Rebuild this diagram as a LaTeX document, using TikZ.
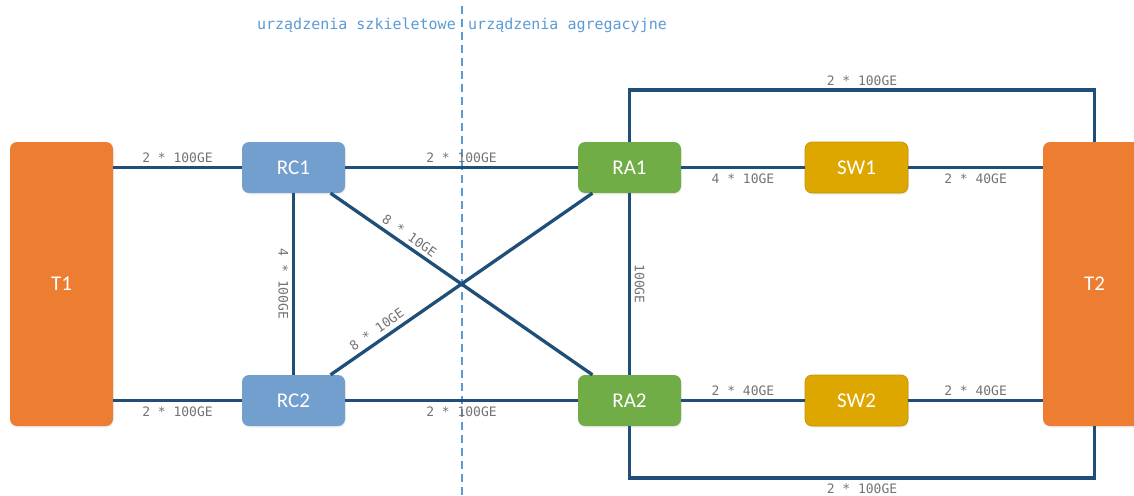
\documentclass[tikz,border=0pt]{standalone}
\usepackage{fontspec}
\setmainfont{Carlito}
\setmonofont{DejaVu Sans Mono}
\usetikzlibrary{calc,shadows}
\definecolor{linkc}{HTML}{1F4E79}
\definecolor{rcblue}{HTML}{739FCE}
\definecolor{ragreen}{HTML}{70AD47}
\definecolor{swgold}{HTML}{DEA700}
\definecolor{swborder}{HTML}{C29200}
\definecolor{torange}{HTML}{ED7D31}
\definecolor{lblgray}{HTML}{737373}
\definecolor{hdrblue}{HTML}{5B9BD5}
\tikzset{
  dev/.style={rectangle, rounded corners=7pt, minimum width=103pt, minimum height=51pt,
    inner sep=0pt, text=white, font=\fontsize{21}{25}\selectfont,
    drop shadow={opacity=0.12, shadow xshift=1pt, shadow yshift=-1.5pt}},
  rc/.style={dev, fill=rcblue},
  ra/.style={dev, fill=ragreen},
  sw/.style={dev, fill=swgold, draw=swborder, line width=0.7pt},
  term/.style={dev, fill=torange, minimum height=284pt},
  link/.style={draw=linkc, line width=3.3pt},
  lbl/.style={font=\fontsize{13}{15}\selectfont\ttfamily, text=lblgray, inner sep=1.5pt},
  vlbl/.style={lbl, inner sep=3.5pt, rotate=-90},
  hdr/.style={font=\fontsize{15}{18}\selectfont\ttfamily, text=hdrblue, inner sep=0pt},
  divider/.style={draw=hdrblue, line width=1.4pt, dash pattern=on 8pt off 5pt},
}
\begin{document}
\begin{tikzpicture}[x=1pt,y=-1pt]
\useasboundingbox (0,0) rectangle (1134,495);
% divider and headers
\coordinate (dtop) at (462,6);
\coordinate (dbot) at (462,495);
\draw[divider] (dtop) -- (dbot);
\node[hdr, anchor=east] (hl) at (456,25) {urządzenia szkieletowe};
\node[hdr, anchor=west] (hr) at (468,25) {urządzenia agregacyjne};
% devices
\node[term] (T1) at (61.5,284) {T1};
\node[term] (T2) at (1094.5,284) {T2};
\node[rc] (RC1) at (293.5,167.5) {RC1};
\node[rc] (RC2) at (293.5,400.5) {RC2};
\node[ra] (RA1) at (629.5,167.5) {RA1};
\node[ra] (RA2) at (629.5,400.5) {RA2};
\node[sw] (SW1) at (856.5,167.5) {SW1};
\node[sw] (SW2) at (856.5,400.5) {SW2};
% helper rows
\coordinate (topline) at (0,90);
\coordinate (botline) at (0,478);
% links
\draw[link] (RC1.west -| T1.east) -- node[lbl, above=2pt] {2 * 100GE} (RC1.west);
\draw[link] (RC2.west -| T1.east) -- node[lbl, below=3pt] {2 * 100GE} (RC2.west);
\draw[link] (RC1.east) -- node[lbl, above=2pt] {2 * 100GE} (RA1.west);
\draw[link] (RC2.east) -- node[lbl, below=3pt] {2 * 100GE} (RA2.west);
\draw[link] (RC1.south) -- node[vlbl, anchor=north] {4 * 100GE} (RC2.north);
\draw[link] (RA1.south) -- node[vlbl, anchor=south] {100GE} (RA2.north);
\draw[link] (RC1) -- node[lbl, sloped, above=2pt, pos=0.28] {8 * 10GE} (RA2);
\draw[link] (RC2) -- node[lbl, sloped, above=3pt, pos=0.2] {8 * 10GE} (RA1);
\draw[link] (RA1.east) -- node[lbl, below=3pt] {4 * 10GE} (SW1.west);
\draw[link] (SW1.east) -- node[lbl, below=3pt] {2 * 40GE} (SW1.east -| T2.west);
\draw[link] (RA2.east) -- node[lbl, above=1.5pt] {2 * 40GE} (SW2.west);
\draw[link] (SW2.east) -- node[lbl, above=1.5pt] {2 * 40GE} (SW2.east -| T2.west);
\draw[link] (RA1.north) -- (RA1.north |- topline) -- node[lbl, above=1.5pt] {2 * 100GE} (T2.north |- topline) -- (T2.north);
\draw[link] (RA2.south) -- (RA2.south |- botline) -- node[lbl, below=2.5pt] {2 * 100GE} (T2.south |- botline) -- (T2.south);
\end{tikzpicture}
\end{document}
